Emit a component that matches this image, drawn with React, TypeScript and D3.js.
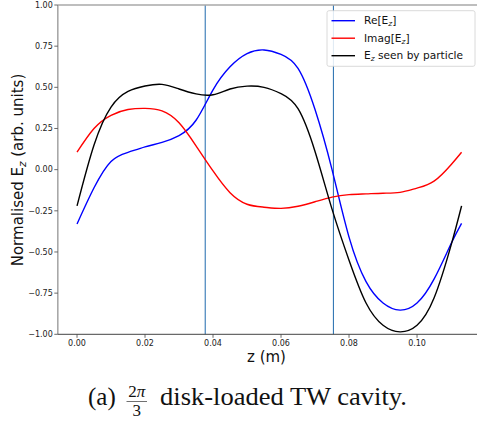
import React from "react";
import * as d3 from "d3";

const width = 477;
const height = 421;

// cell length (m), three cells
const cavityLength = 0.1131;

const zPoints = [
  0, 0.005, 0.01, 0.015, 0.02, 0.025, 0.03, 0.035, 0.04, 0.045, 0.05, 0.055,
  0.06, 0.065, 0.07, 0.075, 0.08, 0.085, 0.09, 0.095, 0.1, 0.105, 0.11, 0.1131,
];
const reEz = [
  -0.33, -0.11, 0.05, 0.105, 0.138, 0.166, 0.207, 0.3, 0.485, 0.625, 0.705, 0.727,
  0.7, 0.615, 0.365, 0.0, -0.41, -0.68, -0.81, -0.853, -0.81, -0.665, -0.45, -0.326,
];
const imEz = [
  0.106, 0.25, 0.33, 0.365, 0.372, 0.357, 0.285, 0.145, -0.008, -0.14, -0.21, -0.228,
  -0.235, -0.222, -0.195, -0.167, -0.152, -0.147, -0.143, -0.138, -0.112, -0.07, 0.03, 0.106,
];
const seenEz = [
  -0.22, 0.15, 0.38, 0.475, 0.508, 0.518, 0.49, 0.46, 0.455, 0.49, 0.507, 0.5,
  0.462, 0.37, 0.11, -0.24, -0.55, -0.81, -0.945, -0.985, -0.945, -0.78, -0.46, -0.22,
];

const xTicks = [0, 0.02, 0.04, 0.06, 0.08, 0.1];
const yTicks = [-1, -0.75, -0.5, -0.25, 0, 0.25, 0.5, 0.75, 1];
const cellBounds = [cavityLength / 3, (2 * cavityLength) / 3];

const series = [
  { name: "Re", values: reEz, color: "#0000ff" },
  { name: "Imag", values: imEz, color: "#ff0000" },
  { name: "seen", values: seenEz, color: "#000000" },
];

const x = d3
  .scaleLinear()
  .domain([-0.05 * cavityLength, 1.05 * cavityLength])
  .range([57.8, 480.8]);
const y = d3.scaleLinear().domain([-1, 1]).range([334.3, 5]);

const fmt = d3.format(".2f");
const sans = "'DejaVu Sans', sans-serif";
const serif = "'Liberation Serif', 'DejaVu Serif', serif";

export default function App() {
  const line = (vals: number[]) =>
    d3
      .line<number>()
      .x((_, i) => x(zPoints[i]))
      .y((d) => y(d))
      .curve(d3.curveNatural)(vals) || "";

  const top = y.range()[1];
  const bottom = y.range()[0];
  const left = x.range()[0];
  const right = x.range()[1];

  return (
    <>
      <style>{`body{margin:0}`}</style>
      <svg width={width} height={height} style={{ display: "block", background: "#fff" }}>
        <rect x={0} y={0} width={width} height={height} fill="#fff" />

        {/* vertical cell boundaries */}
        {cellBounds.map((b, i) => (
          <line key={i} x1={x(b)} x2={x(b)} y1={top} y2={bottom} stroke="#1f6aad" strokeWidth={1} />
        ))}

        {series.map((s) => (
          <path key={s.name} d={line(s.values)} fill="none" stroke={s.color} strokeWidth={1.4} />
        ))}

        {/* spines */}
        <line x1={left} x2={left} y1={top} y2={bottom} stroke="#a8a8a8" strokeWidth={1.6} />
        <line x1={left} x2={right} y1={top} y2={top} stroke="#a8a8a8" strokeWidth={1.6} />
        <line x1={left} x2={right} y1={bottom} y2={bottom} stroke="#444" strokeWidth={1} />

        {/* y ticks */}
        {yTicks.map((t) => (
          <g key={t}>
            <line x1={left - 3.5} x2={left} y1={y(t)} y2={y(t)} stroke="#444" strokeWidth={0.8} />
            <text
              x={left - 5}
              y={y(t)}
              dy="0.35em"
              textAnchor="end"
              fontFamily={sans}
              fontSize={8}
              fill="#222"
            >
              {fmt(t)}
            </text>
          </g>
        ))}

        {/* x ticks */}
        {xTicks.map((t) => (
          <g key={t}>
            <line x1={x(t)} x2={x(t)} y1={bottom} y2={bottom + 3.5} stroke="#444" strokeWidth={0.8} />
            <text
              x={x(t)}
              y={bottom + 9}
              dy="0.35em"
              textAnchor="middle"
              fontFamily={sans}
              fontSize={8}
              fill="#222"
            >
              {fmt(t)}
            </text>
          </g>
        ))}

        {/* axis labels */}
        <text x={266.5} y={362} textAnchor="middle" fontFamily={sans} fontSize={15} fill="#111">
          z (m)
        </text>
        <text
          transform={`translate(23,170) rotate(-90)`}
          textAnchor="middle"
          fontFamily={sans}
          fontSize={15}
          fill="#111"
        >
          Normalised E<tspan fontStyle="italic" fontSize={10.5} dy={3}>z</tspan>
          <tspan dy={-3}> (arb. units)</tspan>
        </text>

        {/* legend */}
        <rect x={327} y={10.7} width={148} height={55.6} rx={2} fill="#fff" fillOpacity={0.85} stroke="#d0d0d0" strokeWidth={0.8} />
        {series.map((s, i) => {
          const ly = 20.7 + i * 17.5;
          return (
            <g key={s.name}>
              <line x1={331.5} x2={355} y1={ly} y2={ly} stroke={s.color} strokeWidth={1.4} />
              <text x={364} y={ly} dy="0.35em" fontFamily={sans} fontSize={10.6} fill="#111">
                {s.name === "Re" && (
                  <>
                    Re[E<tspan fontStyle="italic" fontSize={7.5} dy={2}>z</tspan>
                    <tspan dy={-2}>]</tspan>
                  </>
                )}
                {s.name === "Imag" && (
                  <>
                    Imag[E<tspan fontStyle="italic" fontSize={7.5} dy={2}>z</tspan>
                    <tspan dy={-2}>]</tspan>
                  </>
                )}
                {s.name === "seen" && (
                  <>
                    E<tspan fontStyle="italic" fontSize={7.5} dy={2}>z</tspan>
                    <tspan dy={-2}> seen by particle</tspan>
                  </>
                )}
              </text>
            </g>
          );
        })}

        {/* caption */}
        <text x={88} y={405} fontFamily={serif} fontSize={25} fill="#111">
          (a)
        </text>
        <text x={136.7} y={397} textAnchor="middle" fontFamily={serif} fontSize={17} fill="#111">
          2<tspan fontStyle="italic">π</tspan>
        </text>
        <line x1={126.5} x2={147} y1={401.5} y2={401.5} stroke="#111" strokeWidth={0.6} />
        <text x={136.7} y={416} textAnchor="middle" fontFamily={serif} fontSize={17} fill="#111">
          3
        </text>
        <text
          x={160}
          y={405}
          fontFamily={serif}
          fontSize={25}
          fill="#111"
          textLength={247}
          lengthAdjust="spacingAndGlyphs"
        >
          disk-loaded TW cavity.
        </text>
      </svg>
    </>
  );
}
